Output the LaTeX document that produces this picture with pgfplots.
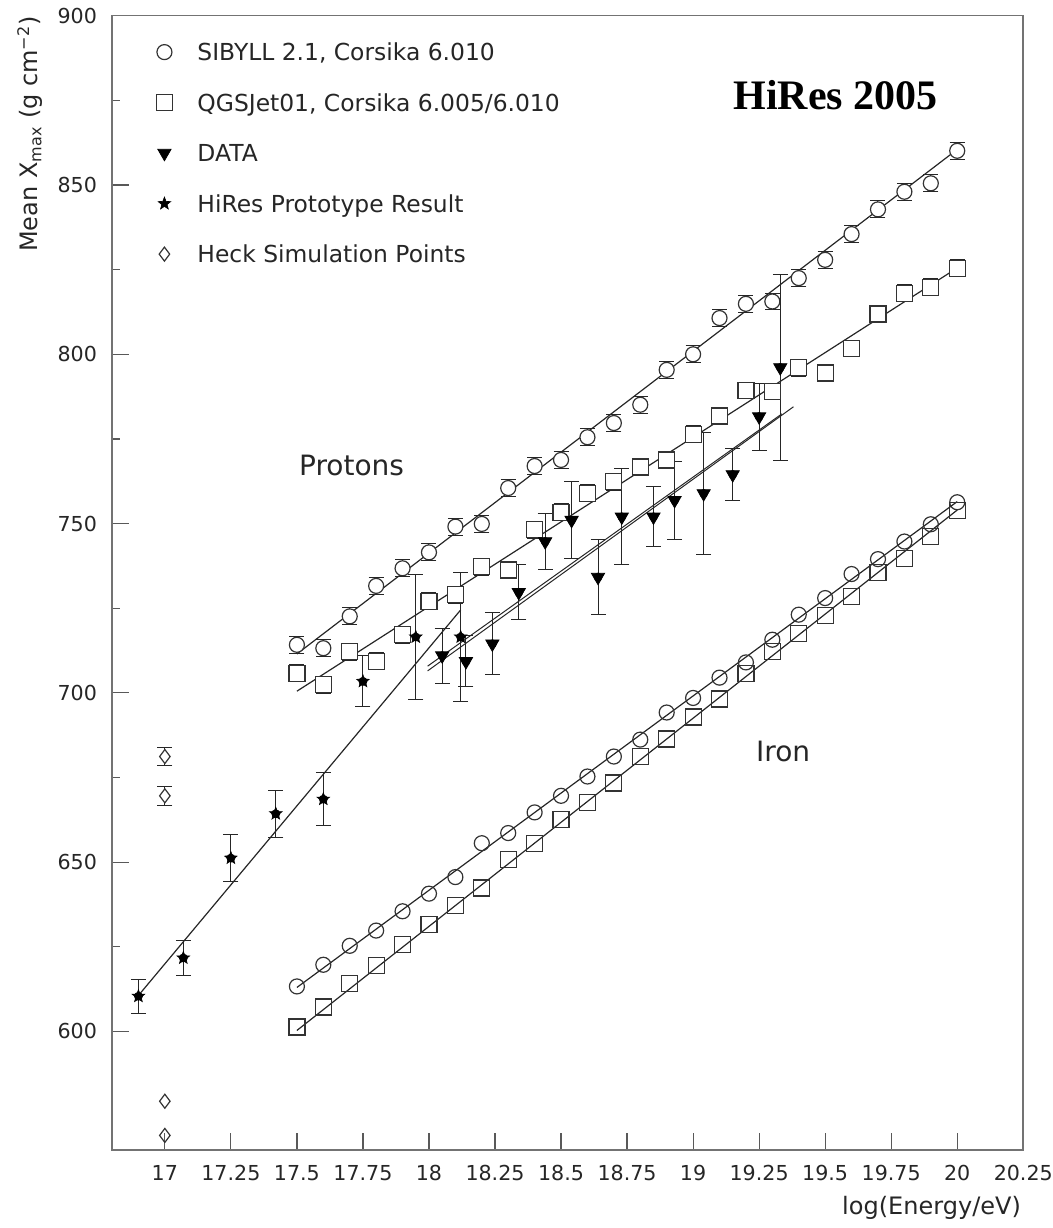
\documentclass[border=0pt]{standalone}
\usepackage{fontspec}
\setmainfont{DejaVu Sans}
\newfontfamily\hiresfont{Liberation Serif}
\usepackage{pgfplots}
\usepackage{pgfplotstable}
\pgfplotsset{compat=1.18}

\pgfdeclareplotmark{fstar}{%
  \pgfpathmoveto{\pgfpointpolar{90}{\pgfplotmarksize}}%
  \pgfpathlineto{\pgfpointpolar{126}{0.42\pgfplotmarksize}}%
  \pgfpathlineto{\pgfpointpolar{162}{\pgfplotmarksize}}%
  \pgfpathlineto{\pgfpointpolar{198}{0.42\pgfplotmarksize}}%
  \pgfpathlineto{\pgfpointpolar{234}{\pgfplotmarksize}}%
  \pgfpathlineto{\pgfpointpolar{270}{0.42\pgfplotmarksize}}%
  \pgfpathlineto{\pgfpointpolar{306}{\pgfplotmarksize}}%
  \pgfpathlineto{\pgfpointpolar{342}{0.42\pgfplotmarksize}}%
  \pgfpathlineto{\pgfpointpolar{18}{\pgfplotmarksize}}%
  \pgfpathlineto{\pgfpointpolar{54}{0.42\pgfplotmarksize}}%
  \pgfpathclose
  \pgfusepathqfillstroke
}

\pgfplotstableread{
x y
17.5 714.2
17.6 713.2
17.7 722.6
17.8 731.6
17.9 736.8
18.0 741.5
18.1 749.1
18.2 749.9
18.3 760.5
18.4 767.0
18.5 768.8
18.6 775.5
18.7 779.7
18.8 785.1
18.9 795.4
19.0 800.0
19.1 810.7
19.2 814.9
19.3 815.6
19.4 822.5
19.5 827.9
19.6 835.5
19.7 842.8
19.8 848.0
19.9 850.5
20.0 860.1
}\sibp

\pgfplotstableread{
x y
17.5 705.8
17.6 702.4
17.7 712.2
17.8 709.3
17.9 717.2
18.0 727.0
18.1 729.0
18.2 737.3
18.3 736.3
18.4 748.2
18.5 753.3
18.6 759.0
18.7 762.4
18.8 766.7
18.9 768.8
19.0 776.4
19.1 781.8
19.2 789.3
19.3 789.0
19.4 796.0
19.5 794.5
19.6 801.7
19.7 811.9
19.8 818.0
19.9 819.8
20.0 825.4
}\qgsp

\pgfplotstableread{
x y
17.5 613.3
17.6 619.7
17.7 625.3
17.8 629.8
17.9 635.5
18.0 640.7
18.1 645.6
18.2 655.6
18.3 658.6
18.4 664.7
18.5 669.6
18.6 675.3
18.7 681.2
18.8 686.2
18.9 694.2
19.0 698.5
19.1 704.5
19.2 709.0
19.3 715.7
19.4 723.1
19.5 728.0
19.6 735.1
19.7 739.5
19.8 744.7
19.9 749.8
20.0 756.3
}\sibfe

\pgfplotstableread{
x y
17.5 601.3
17.6 607.2
17.7 614.1
17.8 619.5
17.9 625.6
18.0 631.5
18.1 637.1
18.2 642.4
18.3 650.8
18.4 655.6
18.5 662.5
18.6 667.6
18.7 673.4
18.8 681.2
18.9 686.4
19.0 692.9
19.1 698.2
19.2 705.8
19.3 712.2
19.4 717.6
19.5 722.8
19.6 728.5
19.7 735.5
19.8 739.8
19.9 746.2
20.0 753.8
}\qgsfe

\pgfplotstableread{
x y e
18.05 711.0 8.1
18.14 709.3 7.5
18.24 714.5 9.2
18.34 729.7 8.1
18.44 744.7 8.4
18.54 751.0 11.4
18.64 734.2 11.0
18.73 752.0 14.2
18.85 752.0 8.9
18.93 756.9 11.5
19.04 758.9 17.9
19.15 764.5 7.8
19.25 781.6 9.9
19.33 796.1 27.6
}\hdata

\pgfplotstableread{
x y e
16.90 610.4 5.0
17.07 621.7 5.2
17.25 651.2 7.0
17.42 664.3 7.0
17.60 668.6 7.8
17.75 703.4 7.5
17.95 716.5 18.5
18.12 716.5 19.0
}\proto

\pgfplotstableread{
x y e
17.0 681.2 2.7
17.0 669.6 2.8
}\heck

\pgfplotstableread{
x y
17.0 579.4
17.0 569.3
}\heckb

\pgfplotsset{
  lgd/.style={legend image code/.code={\path[draw=none,fill=none] (-5pt,-4pt) rectangle (5pt,4pt); \draw[##1] plot coordinates {(0pt,0pt)};}},
  ebar/.style={forget plot, only marks, mark=none, error bars/y dir=both, error bars/error bar style={black!85, line width=0.5pt},
     error bars/error mark options={rotate=90, mark size=3.75pt, black!85, line width=0.5pt}},
}

\begin{document}
\begin{tikzpicture}
\begin{axis}[
  scale only axis, width=455.5pt, height=567pt,
  xmin=16.8, xmax=20.25, ymin=565, ymax=900,
  xtick={17,17.25,17.5,17.75,18,18.25,18.5,18.75,19,19.25,19.5,19.75,20,20.25},
  xticklabels={17,17.25,17.5,17.75,18,18.25,18.5,18.75,19,19.25,19.5,19.75,20,20.25},
  ytick={600,650,700,750,800,850,900},
  minor y tick num=1,
  tick pos=left, tick align=inside,
  major tick length=8.5pt, minor tick length=4pt,
  axis line style={black!55, line width=0.8pt},
  every tick/.style={black!65, line width=0.6pt},
  tick label style={font=\fontsize{10.3}{12}\selectfont, black!85},
  /pgf/number format/assume math mode=true,
  yticklabel style={xshift=-4pt},
  xticklabel style={yshift=-4pt},
  clip=false,
  legend cell align=left,
  legend style={at={(rel axis cs:0,1)}, anchor=north west, xshift=21pt, yshift=-13.25pt,
    draw=none, fill=none, inner sep=0pt, row sep=15.75pt, column sep=11.5pt,
    nodes={inner sep=0pt, text height=9pt, text depth=0.5pt, text=black!85},
    font=\fontsize{11.7}{14}\selectfont},
]
% error bars first (markers drawn on top)
\addplot[ebar, error bars/y fixed=2.5] table[x=x,y=y] {\sibp};
\addplot[ebar, error bars/y fixed=2.5] table[x=x,y=y] {\qgsp};
\addplot[ebar, error bars/y explicit] table[x=x,y=y,y error=e] {\hdata};
\addplot[ebar, error bars/y explicit] table[x=x,y=y,y error=e] {\proto};
\addplot[ebar, error bars/y explicit] table[x=x,y=y,y error=e] {\heck};
% SIBYLL protons
\addplot[only marks, mark=*, mark size=3.75pt, mark options={fill=white, draw=black!80}, black!80, line width=0.6pt, lgd] table[x=x,y=y] {\sibp};
\addlegendentry{SIBYLL 2.1, Corsika 6.010}
% QGSJet protons
\addplot[only marks, mark=square*, mark size=4pt, mark options={fill=white, draw=black!80}, black!80, line width=0.6pt, lgd] table[x=x,y=y] {\qgsp};
\addlegendentry{QGSJet01, Corsika 6.005/6.010}
% DATA
\addplot[only marks, mark=triangle*, mark size=3.8pt, mark options={rotate=180, fill=black}, black, line width=0.4pt, lgd] table[x=x,y=y] {\hdata};
\addlegendentry{DATA}
% HiRes prototype
\addplot[only marks, mark=fstar, mark size=3.3pt, mark options={fill=black}, black, line width=0.3pt, lgd] table[x=x,y=y] {\proto};
\addlegendentry{HiRes Prototype Result}
% Heck
\addplot[only marks, mark=diamond*, mark size=3.5pt, mark options={fill=white, draw=black!80}, black!80, line width=0.6pt, lgd] table[x=x,y=y] {\heck};
\addlegendentry{Heck Simulation Points}
\addplot[forget plot, only marks, mark=diamond, mark size=3.5pt, black!80, line width=0.6pt] table[x=x,y=y] {\heckb};
% Iron
\addplot[forget plot, only marks, mark=o, mark size=3.75pt, black!80, line width=0.6pt] table[x=x,y=y] {\sibfe};
\addplot[forget plot, only marks, mark=square, mark size=4pt, black!80, line width=0.6pt] table[x=x,y=y] {\qgsfe};
% Fit lines
\addplot[forget plot, black!85, line width=0.6pt] coordinates {(17.5,711.5) (20.0,860.5)};
\addplot[forget plot, black!85, line width=0.6pt] coordinates {(17.5,700.5) (20.0,825.5)};
\addplot[forget plot, black!85, line width=0.6pt] coordinates {(17.5,613.0) (20.0,756.5)};
\addplot[forget plot, black!85, line width=0.6pt] coordinates {(17.5,600.3) (20.0,754.0)};
\addplot[forget plot, black!85, line width=0.6pt] coordinates {(16.905,611.1) (18.12,724.5)};
\addplot[forget plot, black!85, line width=0.5pt] coordinates {(17.995,706.5) (19.38,784.5)};
\addplot[forget plot, black!85, line width=0.5pt] coordinates {(17.995,707.9) (19.336,782.4)};
% Labels
\node[font=\fontsize{14}{16}\selectfont, text=black!85, inner sep=0pt] at (axis cs:17.707,767.3) {Protons};
\node[font=\fontsize{14}{16}\selectfont, text=black!85, inner sep=0pt] at (axis cs:19.341,682.6) {Iron};
\node[font=\hiresfont\bfseries\fontsize{21}{24}\selectfont, inner sep=0pt] at (axis cs:19.54,876.6) {HiRes 2005};
\end{axis}
\node[rotate=90, anchor=east, inner sep=0pt, font=\fontsize{12}{14}\selectfont, text=black!85]
  at ([xshift=-41pt]current axis.north west) {Mean X\textsubscript{max} (g cm\textsuperscript{−2})};
\node[anchor=east, inner sep=0pt, font=\fontsize{12}{14}\selectfont, text=black!85]
  at ([xshift=-1pt,yshift=-29pt]current axis.south east) {log(Energy/eV)};
\pgfresetboundingbox
\path[use as bounding box] ([xshift=-56pt,yshift=-39pt]current axis.south west) rectangle ([xshift=14.5pt,yshift=7.85pt]current axis.north east);
\end{tikzpicture}
\end{document}
